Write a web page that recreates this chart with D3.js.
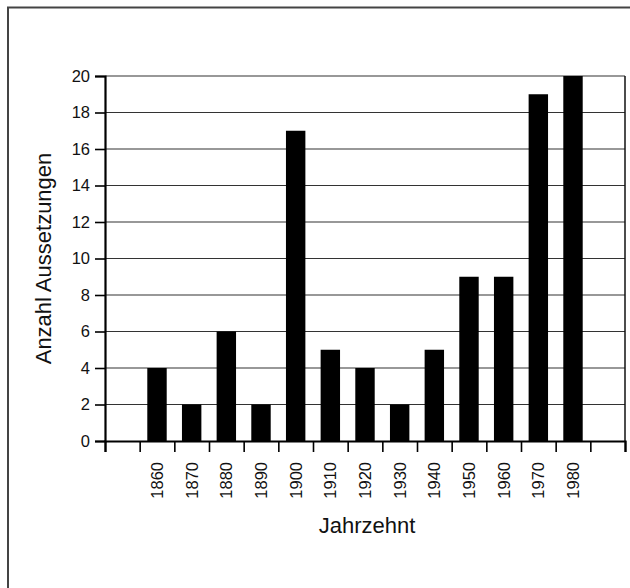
<!DOCTYPE html>
<html>
<head>
<meta charset="utf-8">
<script src="https://cdn.jsdelivr.net/npm/d3@7"></script>
<style>
    body { margin: 0; background: #fff; }
    text { font-family: "Liberation Sans", Arial, sans-serif; fill: #111; }
</style>
</head>
<body>
<svg id="chart" width="630" height="588"></svg>
<script>
// Decades and number of releases per decade
const decades = ["1860", "1870", "1880", "1890", "1900", "1910", "1920",
                 "1930", "1940", "1950", "1960", "1970", "1980"];
const counts = [4, 2, 6, 2, 17, 5, 4, 2, 5, 9, 9, 19, 20];
const yTicks = [0, 2, 4, 6, 8, 10, 12, 14, 16, 18, 20];

// One empty slot before and after the decades
const slots = ["pre", ...decades, "post"];

const svg = d3.select("#chart");
const margin = {left: 105, right: 5, top: 76, bottom: 147};
const width = 630 - margin.left - margin.right;
const height = 588 - margin.top - margin.bottom;

// Frame around the figure (only top and left edges show)
svg.append("path")
    .attr("d", "M8,588 V7.5 H630")
    .attr("fill", "none")
    .attr("stroke", "#444")
    .attr("stroke-width", 2);

const g = svg.append("g")
    .attr("transform", `translate(${margin.left},${margin.top})`);

const x = d3.scaleBand()
    .domain(slots)
    .range([0, width])
    .paddingInner(0.44)
    .paddingOuter(0.22);

// Slot boundaries for the x ticks
const xEdge = d3.scaleLinear()
    .domain([0, slots.length])
    .range([0, width]);

const y = d3.scaleLinear()
    .domain([0, 20])
    .range([height, 0]);

// Horizontal grid lines
g.append("g")
    .selectAll("line")
    .data(yTicks.filter(d => d > 0))
    .join("line")
    .attr("x1", 0)
    .attr("x2", width)
    .attr("y1", d => y(d))
    .attr("y2", d => y(d))
    .attr("stroke", "#333")
    .attr("stroke-width", 1.2);

// Right edge of the plot
g.append("line")
    .attr("x1", width).attr("x2", width)
    .attr("y1", 0).attr("y2", height)
    .attr("stroke", "#111")
    .attr("stroke-width", 1.5);

// Bars
g.append("g")
    .selectAll("rect")
    .data(decades)
    .join("rect")
    .attr("x", d => x(d))
    .attr("width", x.bandwidth())
    .attr("y", (d, i) => y(counts[i]))
    .attr("height", (d, i) => height - y(counts[i]))
    .attr("fill", "#000");

// Y axis
const yAxis = g.append("g")
    .call(d3.axisLeft(y).tickValues(yTicks).tickSize(10).tickPadding(5));
yAxis.select(".domain").attr("stroke", "#000").attr("stroke-width", 2.2);
yAxis.selectAll(".tick line").attr("stroke", "#000").attr("stroke-width", 1.6);
yAxis.selectAll(".tick text")
    .attr("font-size", 16.5)
    .attr("fill", "#111");

// X axis: baseline and ticks at slot edges
const xAxis = g.append("g")
    .attr("transform", `translate(0,${height})`)
    .call(d3.axisBottom(xEdge).ticks(slots.length).tickSize(11).tickFormat(""));
xAxis.select(".domain").attr("stroke", "#000").attr("stroke-width", 2.2);
xAxis.selectAll(".tick line").attr("stroke", "#000").attr("stroke-width", 1.6);

// Decade labels, rotated
g.append("g")
    .selectAll("text")
    .data(decades)
    .join("text")
    .attr("transform", d =>
        `translate(${x(d) + x.bandwidth() / 2 + 6},${height + 21}) rotate(-90)`)
    .attr("text-anchor", "end")
    .attr("font-size", 16.5)
    .text(d => d);

// Axis titles
svg.append("text")
    .attr("x", margin.left + width / 2 + 2)
    .attr("y", 533)
    .attr("text-anchor", "middle")
    .attr("font-size", 22)
    .text("Jahrzehnt");

svg.append("text")
    .attr("transform", `translate(51,${margin.top + height / 2}) rotate(-90)`)
    .attr("text-anchor", "middle")
    .attr("font-size", 22)
    .text("Anzahl Aussetzungen");
</script>
</body>
</html>
